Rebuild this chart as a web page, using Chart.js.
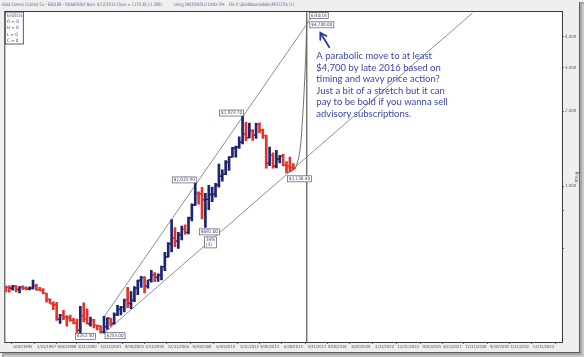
<!DOCTYPE html>
<html>
<head>
<meta charset="utf-8">
<script src="https://cdn.jsdelivr.net/npm/chart.js@4.4.1/dist/chart.umd.min.js"></script>
<style>
  html, body { margin: 0; padding: 0; background: #fff; }
  canvas { display: block; }
</style>
</head>
<body>
<canvas id="chart-gold" width="584" height="357"></canvas>
<script>
// quarterly bars, index 0 = 1994 Q1 ... index 85 = 2015 Q2
const opens = [391, 390, 387, 395, 383, 392, 387, 384, 387, 397, 382, 379, 369, 349, 335, 332,
  290, 301, 297, 294, 288, 280, 262, 300, 290, 278, 289, 274, 273, 258, 271, 293,
  279, 303, 318, 324, 348, 336, 346, 388, 416, 427, 395, 418, 438, 428, 437, 473,
  518, 584, 616, 599, 636, 669, 650, 743, 837, 933, 930, 880, 884, 924, 927, 1008,
  1096, 1115, 1245, 1307, 1421, 1439, 1501, 1624, 1566, 1669, 1604, 1773, 1676, 1596, 1234, 1328,
  1202, 1284, 1322, 1210, 1199, 1183];
const highs = [396, 396, 398, 397, 393, 396, 392, 392, 418, 401, 390, 386, 370, 351, 341, 340,
  304, 315, 300, 302, 293, 291, 327, 338, 320, 296, 290, 275, 273, 298, 294, 293,
  308, 330, 327, 350, 390, 375, 393, 418, 432, 431, 418, 457, 448, 443, 475, 540,
  592, 732, 680, 650, 690, 697, 749, 848, 1033.9, 947, 988, 935, 1006, 990, 1025, 1227,
  1161, 1265, 1315, 1432, 1448, 1577, 1923.7, 1804, 1792, 1690, 1790, 1798, 1697, 1606, 1434, 1361,
  1392, 1331, 1345, 1255, 1307, 1232];
const lows = [374, 373, 380, 374, 371, 382, 381, 381, 384, 380, 379, 367, 340, 336, 317, 287,
  279, 289, 272, 285, 278, 256, 252.5, 283, 278, 272, 268, 263, 255.3, 255, 264, 272,
  277, 300, 302, 311, 323, 320, 342, 365, 390, 371, 387, 410, 411, 412, 418, 456,
  517, 542, 570, 560, 606, 638, 641, 723, 835, 845, 736, 681, 802, 865, 902, 990,
  1045, 1110, 1157, 1306, 1308, 1418, 1478, 1523, 1563, 1527, 1556, 1636, 1555, 1180, 1207, 1181,
  1182, 1240, 1206, 1130.4, 1142, 1162];
const closes = [390, 387, 395, 383, 392, 387, 384, 387, 397, 382, 379, 369, 349, 335, 332, 290,
  301, 297, 294, 288, 280, 262, 300, 290, 278, 289, 274, 273, 258, 271, 293, 279,
  303, 318, 324, 348, 336, 346, 388, 416, 427, 395, 418, 438, 428, 437, 473, 518,
  584, 616, 599, 636, 669, 650, 743, 837, 933, 930, 880, 884, 924, 927, 1008, 1096,
  1115, 1245, 1307, 1421, 1439, 1501, 1624, 1566, 1669, 1604, 1773, 1676, 1596, 1234, 1328, 1202,
  1284, 1322, 1210, 1199, 1183, 1179];

// x axis ticks (bar index) and their date labels
const xTickIdx = [5, 12, 18, 24, 31, 38, 44, 51, 58, 65, 72, 78, 85,
  92, 98, 105, 112, 119, 126, 132, 139, 146, 152, 159];
const xTickLabels = ['6/30/1995', '3/31/1997', '9/30/1998', '3/31/2000', '12/31/2001', '9/30/2003',
  '3/31/2005', '12/31/2006', '9/30/2008', '6/30/2010', '3/31/2012', '9/30/2013', '6/30/2015',
  '3/31/2017', '9/30/2018', '6/30/2020', '3/31/2022', '12/31/2023', '9/30/2025', '3/31/2027',
  '12/31/2028', '9/30/2030', '3/31/2032', '12/31/2033'];

// price axis (log)
const priceTicks = [560, 800, 1000, 2000, 3000, 4000];
const priceTickLabels = ['', '', '1,000', '2,000', '3,000', '4,000'];

// drawn lines
const upperLine = [{ x: 28.8, y: 294 }, { x: 91.5, y: 5030 }];
const lowerLine = [{ x: 29, y: 255 }, { x: 138, y: 4980 }];
const parabola = [{ x: 83.5, y: 1135 }, { x: 85, y: 1160 }, { x: 86, y: 1220 }, { x: 87, y: 1400 },
  { x: 87.6, y: 1750 }, { x: 88.2, y: 2400 }, { x: 88.7, y: 3400 }, { x: 89, y: 4700 }];
const targetIdx = 89;
const targetPrice = 4700;

// price callouts
const callouts = [
  { x: 22, y: 252.5, lines: ['$252.50'] },
  { x: 29, y: 255, lines: ['$255.00'] },
  { x: 56, y: 1033.9, lines: ['$1,033.90'] },
  { x: 59, y: 681, lines: ['$681.00'] },
  { x: 59, y: 681, lines: ['34%', '(3)'] },
  { x: 70, y: 1923.7, lines: ['$1,923.70'] },
  { x: 83, y: 1130.4, lines: ['$1,130.40'] },
  { x: 89, y: 4700, lines: ['$4,700.00'] },
  { x: 89, y: 4700, lines: ['6/30/16'] }
];

const noteLines = [
  'A parabolic move to at least',
  '$4,700 by late 2016 based on',
  'timing and wavy price action?',
  'Just a bit of a stretch but it can',
  'pay to be bold if you wanna sell',
  'advisory subscriptions.'
];

const legendLines = ['6/30/2016', 'O = 0', 'H = 0', 'L = 0', 'C = 0'];
const titleLeft = 'Gold Comex (Comb) Co - ES0108 - QUARTERLY Bars  6/12/2015 Close = 1179.20 (-1.208)';
const titleRight = 'Using DB/20/GOLD Delta TPs    File C:\\GoldWave\\Adobe\\PS3T.DTA (1)';

const UP = '#1d2470';
const DOWN = '#e2342b';
const TINY = "'Liberation Sans Narrow', 'DejaVu Sans Condensed', sans-serif";

const calloutPlace = [
  { dx: -5, dy: -1 },
  { dx: 1, dy: -0.5 },
  { dx: 1, dy: -5.5, right: true },
  { dx: -6, dy: 1.5 },
  { dx: -1, dy: 9.5 },
  { dx: 1, dy: -5.5, right: true },
  { dx: 1, dy: 3 },
  { dx: 3, dy: 2.5 },
  { dx: 2.5, dy: -6.8 }
];

function barColor(i) {
  return closes[i] >= opens[i] ? UP : DOWN;
}

function drawBox(ctx, x, y, lines, right) {
  ctx.font = '4.6px ' + TINY;
  const w = Math.min(21, Math.max(...lines.map(t => ctx.measureText(t).width))) + 3;
  const h = lines.length * 5 + 1;
  const left = right ? x - w : x;
  ctx.fillStyle = '#ffffff';
  ctx.fillRect(left, y, w, h);
  ctx.strokeStyle = '#5a5a5a';
  ctx.lineWidth = 0.7;
  ctx.strokeRect(left, y, w, h);
  ctx.fillStyle = '#34427a';
  ctx.textBaseline = 'middle';
  ctx.textAlign = 'left';
  lines.forEach((t, i) => ctx.fillText(t, left + 1.5, y + 3 + i * 5, w - 3));
}

const decor = {
  id: 'decor',
  beforeDraw(chart) {
    const { ctx, chartArea: a, width, height } = chart;
    ctx.save();
    ctx.fillStyle = '#efefef';
    ctx.fillRect(0, 0, width, height);
    // window shadow
    const sx = a.right + 17, sy = a.bottom + 10;
    ctx.fillStyle = '#a6a6a6';
    ctx.fillRect(sx, 2, width - sx, height - 2);
    ctx.fillRect(2, sy, width - 2, height - sy);
    ctx.fillStyle = '#c8c8c8';
    ctx.fillRect(sx + 3, 4, width - sx - 3, height - 4);
    ctx.fillRect(4, sy + 3, width - 4, height - sy - 3);
    ctx.fillStyle = '#5c5c5c';
    ctx.fillRect(sx, 2, 1, sy - 1);
    ctx.fillRect(0, sy, sx + 1, 1);
    ctx.fillStyle = '#ffffff';
    ctx.fillRect(a.left, a.top, a.right - a.left, a.bottom - a.top);
    ctx.restore();
  },
  afterDraw(chart) {
    const { ctx, chartArea: a, scales } = chart;
    const xs = scales.x, ys = scales.y;
    ctx.save();
    // plot frame
    ctx.strokeStyle = '#3c3c3c';
    ctx.lineWidth = 1;
    ctx.strokeRect(a.left - 0.5, a.top - 0.5, a.right - a.left + 1, a.bottom - a.top + 1);

    // header text
    ctx.font = '4.6px ' + TINY;
    ctx.fillStyle = '#56679a';
    ctx.textBaseline = 'middle';
    ctx.fillText(titleLeft, 2, 5, 160);
    ctx.fillText(titleRight, 174, 5, 120);

    // legend box
    ctx.fillStyle = '#ffffff';
    ctx.fillRect(a.left, a.top, 18, 32);
    ctx.strokeStyle = '#333';
    ctx.lineWidth = 0.8;
    ctx.strokeRect(a.left, a.top, 18, 32);
    ctx.fillStyle = '#3f4d80';
    legendLines.forEach((t, i) => ctx.fillText(t, a.left + 1.5, a.top + 3.5 + i * 6.3, 15.5));

    // callouts
    callouts.forEach((c, i) => {
      const p = calloutPlace[i];
      drawBox(ctx, xs.getPixelForValue(c.x) + p.dx, ys.getPixelForValue(c.y) + p.dy, c.lines, p.right);
    });

    // note and arrow
    const tx = xs.getPixelForValue(targetIdx);
    const ty = ys.getPixelForValue(targetPrice);
    ctx.fillStyle = '#3b46a6';
    ctx.font = "9.5px Lato, 'Open Sans', sans-serif";
    ctx.textBaseline = 'alphabetic';
    noteLines.forEach((t, i) => ctx.fillText(t, tx + 9.5, ty + 40 + i * 11.5));

    const tip = { x: tx + 13.5, y: ty + 13.5 };
    const tail = { x: tx + 22.5, y: ty + 28 };
    const ang = Math.atan2(tip.y - tail.y, tip.x - tail.x);
    ctx.strokeStyle = '#2f3a9e';
    ctx.lineWidth = 1.8;
    ctx.lineCap = 'round';
    ctx.beginPath();
    ctx.moveTo(tail.x, tail.y);
    ctx.lineTo(tip.x, tip.y);
    ctx.moveTo(tip.x + 7 * Math.cos(ang + Math.PI - 0.55), tip.y + 7 * Math.sin(ang + Math.PI - 0.55));
    ctx.lineTo(tip.x, tip.y);
    ctx.lineTo(tip.x + 7 * Math.cos(ang + Math.PI + 0.55), tip.y + 7 * Math.sin(ang + Math.PI + 0.55));
    ctx.stroke();
    ctx.restore();
  }
};

function renderGoldChart(canvasId) {
  const ctx = document.getElementById(canvasId).getContext('2d');
  const idx = highs.map((h, i) => i);
  const colors = idx.map(barColor);

  new Chart(ctx, {
    type: 'bar',
    data: {
      datasets: [
        {
          label: 'High-Low', data: idx.map(i => ({ x: i, y: [lows[i], highs[i]] })),
          backgroundColor: colors, barThickness: 2, grouped: false, order: 2
        },
        {
          type: 'line', label: 'Open', data: idx.map(i => ({ x: i - 0.35, y: opens[i] })),
          showLine: false, pointStyle: 'line', pointRadius: 1.2, pointBorderWidth: 1.3,
          pointBorderColor: colors, pointBackgroundColor: colors, order: 1
        },
        {
          type: 'line', label: 'Close', data: idx.map(i => ({ x: i + 0.35, y: closes[i] })),
          showLine: false, pointStyle: 'line', pointRadius: 1.2, pointBorderWidth: 1.3,
          pointBorderColor: colors, pointBackgroundColor: colors, order: 1
        },
        {
          type: 'line', label: 'Upper', data: upperLine,
          borderColor: '#707070', borderWidth: 0.8, pointRadius: 0, order: 3
        },
        {
          type: 'line', label: 'Lower', data: lowerLine,
          borderColor: '#707070', borderWidth: 0.8, pointRadius: 0, order: 3
        },
        {
          type: 'line', label: 'Parabola', data: parabola,
          borderColor: '#606060', borderWidth: 0.9, pointRadius: 0, tension: 0.4, order: 3
        },
        {
          type: 'line', label: 'Target date',
          data: [{ x: targetIdx, y: 235 }, { x: targetIdx, y: 5030 }],
          borderColor: '#4a4a4a', borderWidth: 1.1, pointRadius: 0, order: 3
        }
      ]
    },
    options: {
      responsive: false,
      animation: false,
      devicePixelRatio: 1,
      layout: { padding: { left: 2, top: 12, right: 5, bottom: 5 } },
      plugins: { legend: { display: false }, tooltip: { enabled: false } },
      scales: {
        x: {
          type: 'linear', min: -0.2, max: 164.5, offset: false,
          afterBuildTicks: s => { s.ticks = xTickIdx.map(v => ({ value: v })); },
          afterFit: s => { s.height = 10; },
          ticks: {
            autoSkip: false, maxRotation: 0, padding: 0.5, color: '#555',
            font: { size: 4.1, family: TINY },
            callback: v => xTickLabels[xTickIdx.indexOf(v)]
          },
          grid: { drawOnChartArea: false, tickLength: 2, color: '#666' },
          border: { color: '#3c3c3c' }
        },
        y: {
          type: 'logarithmic', position: 'right', min: 235, max: 5030,
          afterBuildTicks: s => { s.ticks = priceTicks.map(v => ({ value: v })); },
          afterFit: s => { s.width = 17; },
          ticks: {
            padding: 1, color: '#555',
            font: { size: 4.4, family: TINY },
            callback: v => priceTickLabels[priceTicks.indexOf(v)]
          },
          grid: { drawOnChartArea: false, tickLength: 2, color: '#666' },
          border: { color: '#3c3c3c' },
          title: { display: true, text: 'Price', color: '#444', padding: 0, font: { size: 5, family: TINY } }
        }
      }
    },
    plugins: [decor]
  });
}

const fontsReady = document.fonts
  ? Promise.all([document.fonts.load("9.5px Lato"), document.fonts.load("5px 'Liberation Sans Narrow'")]).catch(() => {})
  : Promise.resolve();
fontsReady.then(() => renderGoldChart('chart-gold'));
</script>
</body>
</html>
